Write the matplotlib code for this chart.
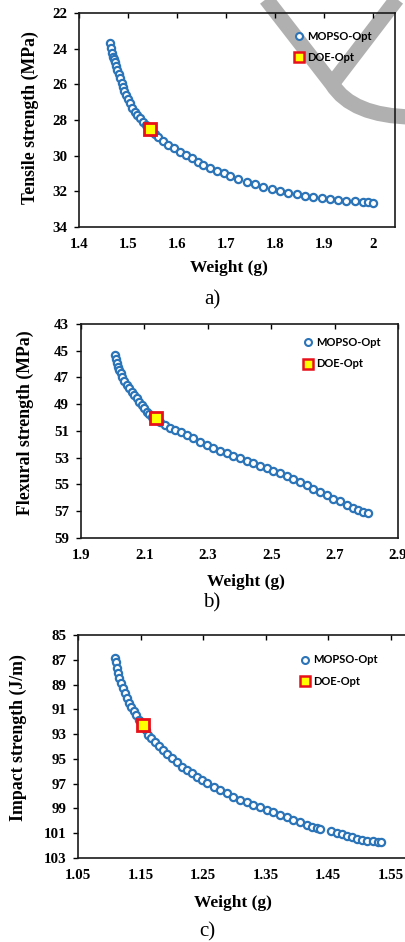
import matplotlib
matplotlib.use("Agg")
import matplotlib.pyplot as plt
from matplotlib.lines import Line2D
from matplotlib.path import Path
from matplotlib.patches import PathPatch
from matplotlib.transforms import Affine2D

# ---------------- data ----------------
# a) Tensile strength vs weight
weight_a = [1.463, 1.465, 1.467, 1.469, 1.471, 1.473, 1.475, 1.478, 1.481, 1.484,
            1.487, 1.489, 1.492, 1.496, 1.500, 1.504, 1.509, 1.514, 1.519, 1.524,
            1.530, 1.536, 1.548, 1.555, 1.562, 1.572, 1.582, 1.594, 1.606, 1.618,
            1.630, 1.642, 1.654, 1.668, 1.681, 1.695, 1.708, 1.725, 1.742, 1.759,
            1.776, 1.793, 1.810, 1.827, 1.844, 1.861, 1.878, 1.895, 1.912, 1.929,
            1.946, 1.963, 1.980, 1.990, 2.000]
tensile_a = [23.70, 23.95, 24.22, 24.45, 24.60, 24.73, 24.95, 25.20, 25.43, 25.66,
             25.90, 26.13, 26.37, 26.60, 26.83, 27.06, 27.30, 27.53, 27.72, 27.90,
             28.10, 28.30, 28.65, 28.80, 28.94, 29.17, 29.40, 29.59, 29.78, 29.97,
             30.15, 30.34, 30.52, 30.68, 30.84, 30.99, 31.14, 31.30, 31.46, 31.60,
             31.74, 31.86, 31.97, 32.07, 32.17, 32.26, 32.34, 32.40, 32.45, 32.50,
             32.54, 32.57, 32.60, 32.62, 32.65]
doe_a = (1.545, 28.5)

# b) Flexural strength vs weight
weight_b = [2.007, 2.010, 2.013, 2.017, 2.021, 2.025, 2.028, 2.036, 2.044, 2.052,
            2.060, 2.068, 2.076, 2.084, 2.091, 2.099, 2.107, 2.115, 2.124, 2.150,
            2.165, 2.181, 2.197, 2.215, 2.233, 2.254, 2.275, 2.296, 2.317, 2.338,
            2.360, 2.381, 2.402, 2.423, 2.444, 2.465, 2.486, 2.507, 2.528, 2.549,
            2.570, 2.591, 2.612, 2.633, 2.654, 2.675, 2.696, 2.717, 2.738, 2.757,
            2.775, 2.790, 2.806]
flexural_b = [45.32, 45.65, 45.94, 46.20, 46.44, 46.70, 46.94, 47.25, 47.56, 47.81,
              48.06, 48.31, 48.56, 48.81, 49.06, 49.31, 49.56, 49.75, 49.95, 50.35,
              50.55, 50.74, 50.93, 51.11, 51.30, 51.55, 51.80, 52.05, 52.30, 52.48,
              52.67, 52.86, 53.05, 53.23, 53.42, 53.61, 53.80, 53.98, 54.17, 54.39,
              54.62, 54.83, 55.05, 55.30, 55.55, 55.80, 56.05, 56.27, 56.50, 56.72,
              56.93, 57.05, 57.15]
doe_b = (2.137, 50.05)

# c) Impact strength vs weight
weight_c = [1.109, 1.110, 1.112, 1.114, 1.116, 1.119, 1.122, 1.125, 1.128, 1.131,
            1.135, 1.139, 1.143, 1.148, 1.158, 1.162, 1.167, 1.173, 1.179, 1.186,
            1.193, 1.200, 1.208, 1.216, 1.224, 1.232, 1.240, 1.248, 1.257, 1.267,
            1.277, 1.288, 1.298, 1.309, 1.320, 1.330, 1.341, 1.352, 1.362, 1.373,
            1.384, 1.394, 1.405, 1.416, 1.424, 1.432, 1.437, 1.455, 1.464, 1.472,
            1.480, 1.488, 1.496, 1.504, 1.512, 1.521, 1.530, 1.535]
impact_c = [86.88, 87.20, 87.69, 88.10, 88.50, 88.90, 89.30, 89.70, 90.10, 90.45,
            90.79, 91.12, 91.46, 91.85, 92.65, 93.07, 93.35, 93.61, 93.95, 94.28,
            94.62, 94.95, 95.29, 95.63, 95.90, 96.16, 96.43, 96.70, 96.97, 97.24,
            97.51, 97.78, 98.05, 98.32, 98.52, 98.72, 98.92, 99.12, 99.32, 99.52,
            99.72, 99.93, 100.13, 100.33, 100.47, 100.60, 100.66, 100.85, 100.97, 101.10,
            101.22, 101.33, 101.44, 101.52, 101.60, 101.66, 101.72, 101.74]
doe_c = (1.1535, 92.26)

xticks_a = [1.4, 1.5, 1.6, 1.7, 1.8, 1.9, 2.0]
xticklabels_a = ["1.4", "1.5", "1.6", "1.7", "1.8", "1.9", "2"]
yticks_a = [22, 24, 26, 28, 30, 32, 34]

xticks_b = [1.9, 2.1, 2.3, 2.5, 2.7, 2.9]
xticklabels_b = ["1.9", "2.1", "2.3", "2.5", "2.7", "2.9"]
yticks_b = [43, 45, 47, 49, 51, 53, 55, 57, 59]

xticks_c = [1.05, 1.15, 1.25, 1.35, 1.45, 1.55]
xticklabels_c = ["1.05", "1.15", "1.25", "1.35", "1.45", "1.55"]
yticks_c = [85, 87, 89, 91, 93, 95, 97, 99, 101, 103]

ylabels = ["Tensile strength (MPa)", "Flexural strength (MPa)", "Impact strength (J/m)"]
captions = ["a)", "b)", "c)"]
series_labels = ["MOPSO-Opt", "DOE-Opt"]

# ---------------- style ----------------
W, H = 406, 942
BLUE = "#2b74b8"
SERIF = ["Liberation Serif", "DejaVu Serif"]
SANS = ["Lato", "DejaVu Sans"]

fig = plt.figure(figsize=(W / 100, H / 100), dpi=100)
fig.patch.set_facecolor("white")

def px_axes(l, t, r, b):
    return [l / W, 1 - b / H, (r - l) / W, (b - t) / H]

panels = [
    dict(rect=px_axes(79, 13, 395, 227), x=weight_a, y=tensile_a, doe=doe_a,
         xlim=(1.4, 2.045), ylim=(34, 22), xt=xticks_a, xtl=xticklabels_a, yt=yticks_a,
         xl=(0.475, -0.19), yl=(-0.155, 0.51), leg=(0.682, 0.918), cap=(212, 300)),
    dict(rect=px_axes(81, 324, 398, 538), x=weight_b, y=flexural_b, doe=doe_b,
         xlim=(1.9, 2.9), ylim=(59, 43), xt=xticks_b, xtl=xticklabels_b, yt=yticks_b,
         xl=(0.52, -0.206), yl=(-0.177, 0.54), leg=(0.702, 0.94), cap=(212, 603)),
    dict(rect=px_axes(78, 635, 422, 858), x=weight_c, y=impact_c, doe=doe_c,
         xlim=(1.05, 1.6), ylim=(103, 85), xt=xticks_c, xtl=xticklabels_c, yt=yticks_c,
         xl=(0.45, -0.20), yl=(-0.174, 0.54), leg=(0.647, 0.913), cap=(207, 932)),
]

for i, p in enumerate(panels):
    ax = fig.add_axes(p["rect"])
    ax.set_facecolor("none")
    ax.plot(p["x"], p["y"], linestyle="none", marker="o", ms=5.2, mfc="white",
            mec=BLUE, mew=1.6, zorder=3)
    ax.plot([p["doe"][0]], [p["doe"][1]], linestyle="none", marker="s", ms=9,
            mfc="#ffff00", mec="#e8101a", mew=2.0, zorder=4)
    ax.set_xlim(*p["xlim"])
    ax.set_ylim(*p["ylim"])
    ax.set_xticks(p["xt"])
    ax.set_xticklabels(p["xtl"])
    ax.set_yticks(p["yt"])
    ax.set_yticklabels([str(v) for v in p["yt"]])
    ax.tick_params(axis="x", top=True, bottom=False, labelbottom=True, labeltop=False,
                   direction="in", length=3.5, width=1.0, pad=8)
    ax.tick_params(axis="y", left=True, right=False, direction="out", length=3.5,
                   width=1.0, pad=5)
    for lab in ax.get_xticklabels() + ax.get_yticklabels():
        lab.set_fontfamily(SERIF)
        lab.set_fontweight("bold")
        lab.set_fontsize(10.8)
    for s in ax.spines.values():
        s.set_linewidth(1.2)
        s.set_color("#1a1a1a")
    ax.set_xlabel("Weight (g)", fontfamily=SERIF, fontweight="bold", fontsize=12.5)
    ax.xaxis.label.set_va("center")
    ax.xaxis.set_label_coords(*p["xl"])
    ax.set_ylabel(ylabels[i], fontfamily=SERIF, fontweight="bold", fontsize=12.8)
    ax.yaxis.label.set_va("center")
    ax.yaxis.set_label_coords(*p["yl"])

    handles = [
        Line2D([], [], linestyle="none", marker="o", ms=5.0, mfc="white", mec=BLUE, mew=1.5),
        Line2D([], [], linestyle="none", marker="s", ms=7.0, mfc="#ffff00", mec="#e8101a", mew=1.8),
    ]
    ax.legend(handles, series_labels, loc="upper left", bbox_to_anchor=p["leg"],
              frameon=False, borderpad=0, borderaxespad=0, handlelength=0.8,
              handletextpad=0.3, labelspacing=0.95,
              prop=dict(family=SANS, weight="bold", size=8.0))

    fig.text(p["cap"][0] / W, 1 - p["cap"][1] / H, captions[i], fontfamily=SERIF,
             fontsize=15, ha="center", va="center")

# grey overlay stroke seen at the top right of the reference image
to_fig = Affine2D().scale(1 / W, -1 / H).translate(0, 1) + fig.transFigure
stroke1 = Path([(263, -5), (332, 84), (352, 116), (412, 117)],
               [Path.MOVETO, Path.LINETO, Path.CURVE3, Path.CURVE3])
stroke2 = Path([(400, -5), (332, 84)], [Path.MOVETO, Path.LINETO])
for pth in (stroke1, stroke2):
    fig.add_artist(PathPatch(pth, transform=to_fig, fill=False, lw=11,
                             edgecolor="#b0b0b0", capstyle="butt", joinstyle="round",
                             zorder=-1))

fig.savefig("out.png", dpi=100)
